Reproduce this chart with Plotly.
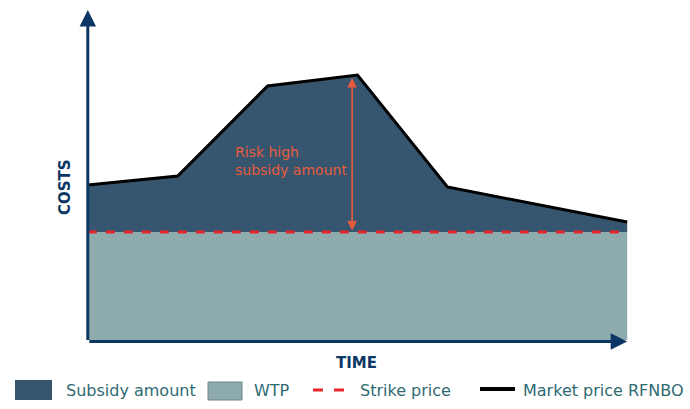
import plotly.graph_objects as go

# data
time = [0, 1, 2, 3, 4, 6]
market_price = [15.5, 16.4, 25.4, 26.5, 15.3, 11.8]
strike_price = 10.8
risk_x = 2.94
risk_top = 26.2
legend_labels = ["Subsidy amount", "WTP", "Strike price", "Market price RFNBO"]

_C = {
    "subsidy": "#36566f",
    "wtp": "#8eabae",
    "axis": "#0c3764",
    "strike": "#e8252a",
    "risk": "#e85a3c",
    "legend_text": "#2e6a72",
    "market": "#000000",
}
FONT = "DejaVu Sans"

W, H = 690, 409
L, R, T, B = 86, 61, 10, 66
X_RANGE = [-0.02, 6.02]
Y_RANGE = [-0.3, 33.0]


def px(x):
    return (x - L) / (W - L - R)


def py(y):
    return (H - B - y) / (H - T - B)


fig = go.Figure()
fig.add_trace(go.Scatter(
    x=[time[0], time[-1]], y=[strike_price, strike_price],
    mode="lines", line=dict(width=0), fill="tozeroy", fillcolor=_C["wtp"],
    showlegend=False, hoverinfo="skip",
))
fig.add_trace(go.Scatter(
    x=time, y=market_price, mode="lines", line=dict(width=0),
    fill="tonexty", fillcolor=_C["subsidy"], showlegend=False, hoverinfo="skip",
))
fig.add_trace(go.Scatter(
    x=[time[0], time[-1]], y=[strike_price, strike_price], mode="lines",
    line=dict(color=_C["strike"], width=3, dash="dash"), showlegend=False,
))
fig.add_trace(go.Scatter(
    x=time, y=market_price, mode="lines",
    line=dict(color=_C["market"], width=3), showlegend=False,
))

annotations = [
    # axes with arrow heads
    dict(x=0, y=Y_RANGE[1], ax=0, ay=-0.15, xref="x", yref="y", axref="x", ayref="y",
         showarrow=True, arrowhead=2, arrowsize=1.1, arrowwidth=3, arrowcolor=_C["axis"], text=""),
    dict(x=time[-1], y=-0.15, ax=0, ay=-0.15, xref="x", yref="y", axref="x", ayref="y",
         showarrow=True, arrowhead=2, arrowsize=1.1, arrowwidth=3, arrowcolor=_C["axis"], text=""),
    # risk arrow
    dict(x=risk_x, y=risk_top, ax=risk_x, ay=strike_price, xref="x", yref="y", axref="x", ayref="y",
         showarrow=True, arrowhead=2, startarrowhead=2, arrowside="end+start", arrowsize=1.2,
         arrowwidth=1.6, arrowcolor=_C["risk"], text=""),
    dict(x=1.62, y=17.9, xref="x", yref="y", xanchor="left", yanchor="middle", align="left",
         showarrow=False, text="Risk high<br>subsidy amount",
         font=dict(family=FONT, size=14, color=_C["risk"])),
    dict(x=px(65), y=py(187), xref="paper", yref="paper", xanchor="center", yanchor="middle",
         showarrow=False, textangle=-90,
         text="<b>COSTS</b>", font=dict(family=FONT, size=15, color=_C["axis"])),
    dict(x=px(356), y=py(363), xref="paper", yref="paper", xanchor="center", yanchor="middle",
         showarrow=False, text="<b>TIME</b>", font=dict(family=FONT, size=15, color=_C["axis"])),
]

# legend drawn by hand to match the original swatches
shapes = [
    dict(type="rect", xref="paper", yref="paper", x0=px(15), x1=px(52), y0=py(400), y1=py(380),
         fillcolor=_C["subsidy"], line=dict(width=0)),
    dict(type="rect", xref="paper", yref="paper", x0=px(208), x1=px(242), y0=py(400), y1=py(382),
         fillcolor=_C["wtp"], line=dict(width=1, color="#6f8486")),
    dict(type="line", xref="paper", yref="paper", x0=px(313), x1=px(323), y0=py(390), y1=py(390),
         line=dict(width=3, color=_C["strike"])),
    dict(type="line", xref="paper", yref="paper", x0=px(334), x1=px(344), y0=py(390), y1=py(390),
         line=dict(width=3, color=_C["strike"])),
    dict(type="line", xref="paper", yref="paper", x0=px(480), x1=px(515), y0=py(389), y1=py(389),
         line=dict(width=4, color=_C["market"])),
]
for label, x0 in zip(legend_labels, [64, 252, 358, 521]):
    annotations.append(dict(
        x=px(x0), y=py(390), xref="paper", yref="paper", xanchor="left", yanchor="middle",
        showarrow=False, text=label, font=dict(family=FONT, size=16, color=_C["legend_text"]),
    ))

fig.update_layout(
    width=W, height=H,
    paper_bgcolor="white", plot_bgcolor="white",
    margin=dict(l=L, r=R, t=T, b=B, pad=0),
    xaxis=dict(range=X_RANGE, visible=False, fixedrange=True),
    yaxis=dict(range=Y_RANGE, visible=False, fixedrange=True),
    showlegend=False,
    annotations=annotations,
    shapes=shapes,
)

# drop the page's default body margin so the figure sits at the window's corner
fig.write_html(
    "out.html",
    config={"displayModeBar": False},
    post_script="document.body.style.margin = '0px';",
)
